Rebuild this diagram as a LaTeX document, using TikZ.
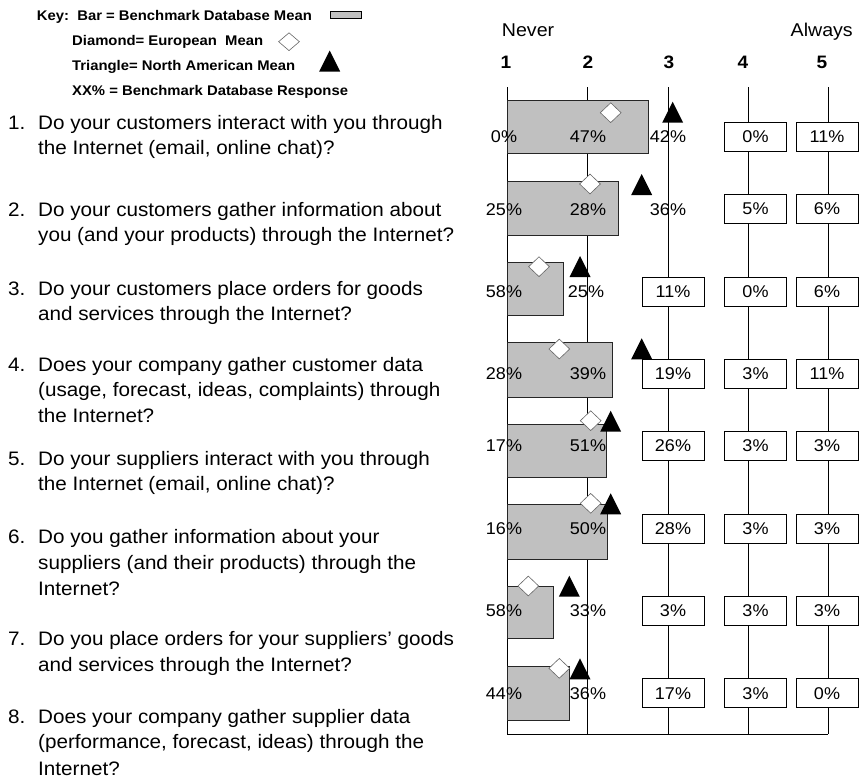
\documentclass[tikz,border=0pt]{standalone}
\usepackage{fontspec}
\setmainfont{Liberation Sans}[FakeStretch=1.06]
\usetikzlibrary{shapes.geometric}

\definecolor{barfill}{HTML}{C0C0C0}

\tikzset{
  axis/.style={line width=1pt, black},
  bar/.style={draw=black!85, line width=1pt, fill=barfill},
  pct/.style={inner sep=0pt, font=\fontsize{17}{20}\selectfont},
  pctbox/.style={pct, draw=black, line width=1pt, fill=white, minimum width=62pt, minimum height=29pt},
  eumark/.style={diamond, draw=black!60, line width=0.6pt, fill=white, inner sep=0pt, minimum width=21pt, minimum height=20pt},
  keytext/.style={anchor=base west, inner sep=0pt, font=\bfseries\fontsize{14}{16}\selectfont},
  qnum/.style={anchor=base west, inner sep=0pt, font=\fontsize{19.5}{25}\selectfont},
  qtext/.style={anchor=base west, inner sep=0pt, font=\fontsize{19.5}{25}\selectfont},
  colhead/.style={anchor=base, inner sep=0pt, font=\bfseries\fontsize{18}{20}\selectfont},
  scaleend/.style={inner sep=0pt, font=\fontsize{18.5}{20}\selectfont},
  natri/.pic={\fill[black] (0,0) -- (-10.5,21) -- (10.5,21) -- cycle;}
}

\begin{document}
\begin{tikzpicture}[x=1pt, y=-1pt]
\useasboundingbox (0,0) rectangle (859,779);

% ---------- key ----------
\node[keytext] (key1) at (36.7,20) {Key:\ \ Bar = Benchmark Database Mean};
\node[keytext] (key2) at (72,45.5) {Diamond= European\ \ Mean};
\node[keytext] (key3) at (72,70) {Triangle= North American Mean};
\node[keytext] (key4) at (72,95) {XX\% = Benchmark Database Response};
\node[draw=black, line width=1pt, fill=barfill, inner sep=0pt, minimum width=31pt, minimum height=7pt] (keybar) at (346,15) {};
\node[eumark, minimum height=18pt] (keydia) at (289,41.7) {};
\pic (keytri) at (329.7,50.5) {natri};

% ---------- questions ----------
\node[qnum] (n1) at (8,129) {1.};
\node[qtext] (q1a) at (38,129) {Do your customers interact with you through};
\node[qtext] (q1b) at (38,154.3) {the Internet (email, online chat)?};

\node[qnum] (n2) at (8,216.7) {2.};
\node[qtext] (q2a) at (38,216.7) {Do your customers gather information about};
\node[qtext] (q2b) at (38,241.7) {you (and your products) through the Internet?};

\node[qnum] (n3) at (8,295) {3.};
\node[qtext] (q3a) at (38,295) {Do your customers place orders for goods};
\node[qtext] (q3b) at (38,320) {and services through the Internet?};

\node[qnum] (n4) at (8,371.7) {4.};
\node[qtext] (q4a) at (38,371.7) {Does your company gather customer data};
\node[qtext] (q4b) at (38,396.9) {(usage, forecast, ideas, complaints) through};
\node[qtext] (q4c) at (38,422.5) {the Internet?};

\node[qnum] (n5) at (8,465) {5.};
\node[qtext] (q5a) at (38,465) {Do your suppliers interact with you through};
\node[qtext] (q5b) at (38,490.7) {the Internet (email, online chat)?};

\node[qnum] (n6) at (8,543.3) {6.};
\node[qtext] (q6a) at (38,543.3) {Do you gather information about your};
\node[qtext] (q6b) at (38,569) {suppliers (and their products) through the};
\node[qtext] (q6c) at (38,595) {Internet?};

\node[qnum] (n7) at (8,645) {7.};
\node[qtext] (q7a) at (38,645) {Do you place orders for your suppliers’ goods};
\node[qtext] (q7b) at (38,671) {and services through the Internet?};

\node[qnum] (n8) at (8,723.3) {8.};
\node[qtext] (q8a) at (38,723.3) {Does your company gather supplier data};
\node[qtext] (q8b) at (38,748.6) {(performance, forecast, ideas) through the};
\node[qtext] (q8c) at (38,775) {Internet?};

% ---------- scale heading ----------
\node[scaleend, anchor=base west] (never) at (501.7,36) {Never};
\node[scaleend, anchor=base east] (always) at (853,36) {Always};
\node[colhead] (h1) at (506,68.3) {1};
\node[colhead] (h2) at (588,68.3) {2};
\node[colhead] (h3) at (669,68.3) {3};
\node[colhead] (h4) at (743,68.3) {4};
\node[colhead] (h5) at (822,68.3) {5};

% ---------- scale lines ----------
\foreach \c/\x in {1/507,2/587,3/668,4/748,5/828} {
  \coordinate (top\c) at (\x,87);
  \coordinate (bot\c) at (\x,734);
  \draw[axis] (top\c) -- (bot\c);
}
\draw[axis] (bot1) -- (bot5);

% ---------- benchmark bars ----------
\foreach \r/\t/\b/\w in {1/100/153/648, 2/181/235/618, 3/262/315/563, 4/342/397/612,
                         5/424/477/606, 6/504/559/607, 7/586/638/553, 8/666/720/569} {
  \draw[bar] (507,\t) rectangle (\w,\b);
}

% ---------- response percentages ----------
% row 1
\node[pct] (r1c1) at (504,137) {0\%};
\node[pct] (r1c2) at (588,137) {47\%};
\node[pct] (r1c3) at (668,137) {42\%};
\node[pctbox] (r1c4) at (755.5,137) {0\%};
\node[pctbox] (r1c5) at (827,137) {11\%};
% row 2
\node[pct] (r2c1) at (504,210) {25\%};
\node[pct] (r2c2) at (588,210) {28\%};
\node[pct] (r2c3) at (668,210) {36\%};
\node[pctbox] (r2c4) at (755.5,209) {5\%};
\node[pctbox] (r2c5) at (827,209) {6\%};
% row 3
\node[pct] (r3c1) at (504,291.7) {58\%};
\node[pct] (r3c2) at (586,291.7) {25\%};
\node[pctbox] (r3c3) at (673,291.7) {11\%};
\node[pctbox] (r3c4) at (755.5,291.7) {0\%};
\node[pctbox] (r3c5) at (827,291.7) {6\%};
% row 4
\node[pct] (r4c1) at (504,373.8) {28\%};
\node[pct] (r4c2) at (588,373.8) {39\%};
\node[pctbox] (r4c3) at (673,373.8) {19\%};
\node[pctbox] (r4c4) at (755.5,373.8) {3\%};
\node[pctbox] (r4c5) at (827,373.8) {11\%};
% row 5
\node[pct] (r5c1) at (504,446) {17\%};
\node[pct] (r5c2) at (588,446) {51\%};
\node[pctbox] (r5c3) at (673,446) {26\%};
\node[pctbox] (r5c4) at (755.5,446) {3\%};
\node[pctbox] (r5c5) at (827,446) {3\%};
% row 6
\node[pct] (r6c1) at (504,528.6) {16\%};
\node[pct] (r6c2) at (588,528.6) {50\%};
\node[pctbox] (r6c3) at (673,528.6) {28\%};
\node[pctbox] (r6c4) at (755.5,528.6) {3\%};
\node[pctbox] (r6c5) at (827,528.6) {3\%};
% row 7
\node[pct] (r7c1) at (504,611) {58\%};
\node[pct] (r7c2) at (588,611) {33\%};
\node[pctbox] (r7c3) at (673,611) {3\%};
\node[pctbox] (r7c4) at (755.5,611) {3\%};
\node[pctbox] (r7c5) at (827,611) {3\%};
% row 8
\node[pct] (r8c1) at (504,693.3) {44\%};
\node[pct] (r8c2) at (588,693.3) {36\%};
\node[pctbox] (r8c3) at (673,693.3) {17\%};
\node[pctbox] (r8c4) at (755.5,693.3) {3\%};
\node[pctbox] (r8c5) at (827,693.3) {0\%};

% ---------- European means (diamonds) ----------
\node[eumark] (eu1) at (610.7,112.7) {};
\node[eumark] (eu2) at (590,184) {};
\node[eumark] (eu3) at (539,266.7) {};
\node[eumark] (eu4) at (559.3,349) {};
\node[eumark] (eu5) at (590.7,420.7) {};
\node[eumark] (eu6) at (590.7,503.3) {};
\node[eumark] (eu7) at (528.3,586) {};
\node[eumark] (eu8) at (559.3,668.3) {};

% ---------- North American means (triangles) ----------
\pic (na1) at (672.7,101.7) {natri};
\pic (na2) at (641.7,174) {natri};
\pic (na3) at (580,256) {natri};
\pic (na4) at (641.7,338.3) {natri};
\pic (na5) at (610.7,410.7) {natri};
\pic (na6) at (610.7,493.3) {natri};
\pic (na7) at (569.3,575.7) {natri};
\pic (na8) at (580,658.3) {natri};
\end{tikzpicture}
\end{document}
